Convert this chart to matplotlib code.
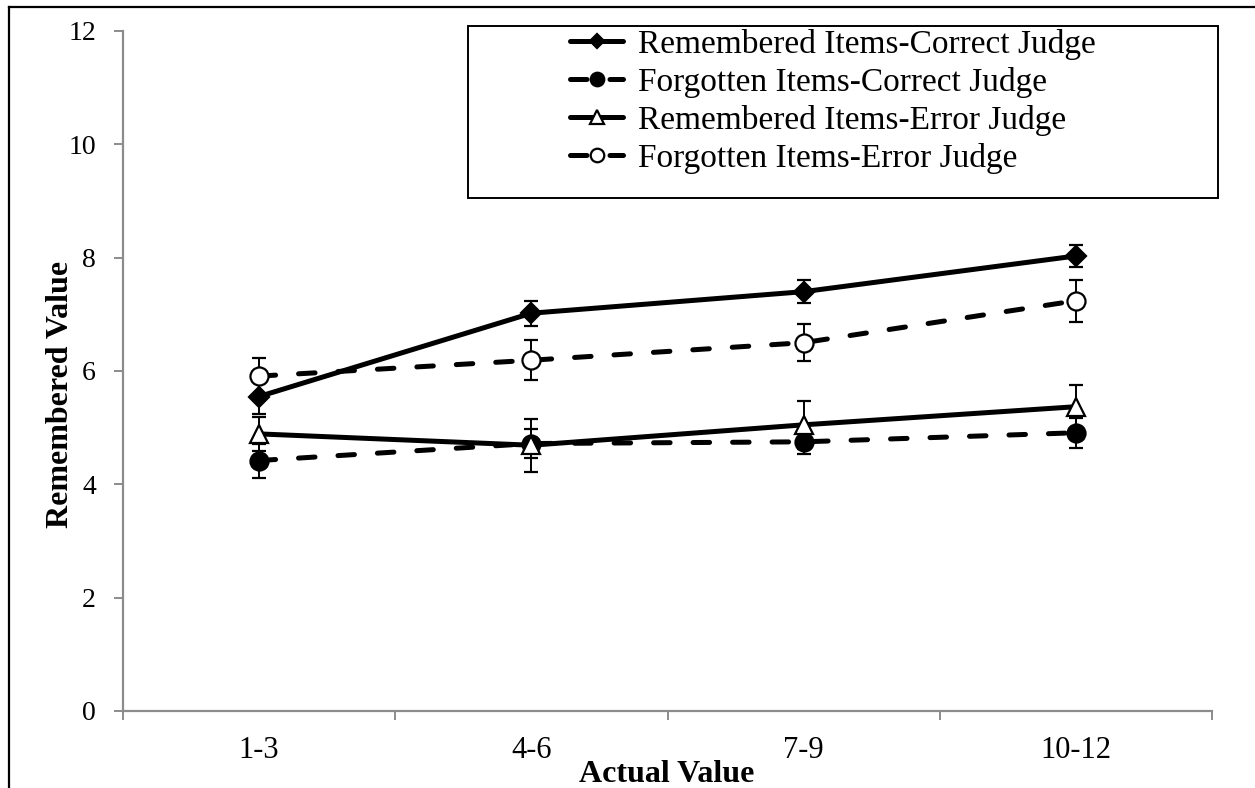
import matplotlib
matplotlib.use("Agg")
import matplotlib.pyplot as plt
from matplotlib.lines import Line2D
from matplotlib.patches import Rectangle

plt.rcParams['font.family'] = ['Liberation Serif', 'DejaVu Serif']

categories = ["1-3", "4-6", "7-9", "10-12"]
series_names = ["Remembered Items-Correct Judge", "Forgotten Items-Correct Judge",
                "Remembered Items-Error Judge", "Forgotten Items-Error Judge"]
rem_correct = [5.55, 7.02, 7.40, 8.03]
rem_correct_err = [0.30, 0.22, 0.20, 0.20]
forg_correct = [4.42, 4.72, 4.75, 4.91]
forg_correct_err = [0.30, 0.25, 0.21, 0.26]
rem_error = [4.89, 4.69, 5.05, 5.37]
rem_error_err = [0.30, 0.47, 0.42, 0.38]
forg_error = [5.91, 6.19, 6.50, 7.24]
forg_error_err = [0.32, 0.35, 0.33, 0.37]
yticks = [0, 2, 4, 6, 8, 10, 12]

fig = plt.figure(figsize=(12.55, 7.88), dpi=100)
ax = fig.add_axes([123/1255, 1-711/788, (1212-123)/1255, (711-31)/788])

x = list(range(len(categories)))
dash = (0, (3.3, 4.6))
specs = [
    (rem_correct, rem_correct_err, dict(marker='D', ms=10, mfc='black', ls='-')),
    (forg_correct, forg_correct_err, dict(marker='o', ms=13, mfc='black', ls=dash)),
    (rem_error, rem_error_err, dict(marker='^', ms=13, mfc='white', ls='-')),
    (forg_error, forg_error_err, dict(marker='o', ms=13, mfc='white', ls=dash)),
]
handles = []
for (vals, errs, st), name in zip(specs, series_names):
    ax.errorbar(x, vals, yerr=errs, fmt='none', ecolor='black', elinewidth=1.4,
                capsize=4.8, capthick=1.6, zorder=2)
    ln, = ax.plot(x, vals, color='black', lw=3.6, ls=st['ls'], marker=st['marker'],
                  ms=st['ms'], mfc=st['mfc'], mec='black', mew=1.6,
                  dash_capstyle='round', solid_capstyle='round', zorder=3, label=name)
    handles.append(ln)

ax.set_xlim(-0.5, 3.5)
ax.set_ylim(0, 12)
ax.set_yticks(yticks)
ax.set_yticklabels([str(v) for v in yticks], fontsize=20)
ax.set_xticks(x)
ax.set_xticklabels(categories, fontsize=22)
ax.set_xticks([-0.5, 0.5, 1.5, 2.5, 3.5], minor=True)
ax.tick_params(axis='x', which='major', length=0, pad=18)
ax.tick_params(axis='x', which='minor', length=6.5, width=1.4, color='#8c8c8c')
ax.tick_params(axis='y', which='major', length=6.5, width=1.4, color='#8c8c8c', pad=13)
for s in ['top', 'right']:
    ax.spines[s].set_visible(False)
for s in ['left', 'bottom']:
    ax.spines[s].set_color('#8c8c8c')
    ax.spines[s].set_linewidth(1.6)

ax.set_xlabel("Actual Value", fontsize=23, fontweight='bold')
ax.xaxis.set_label_coords(0.4995, -0.072)
ax.set_ylabel("Remembered Value", fontsize=23, fontweight='bold')
ax.yaxis.set_label_coords(-0.044, 0.466)

# legend box
fig.add_artist(Rectangle((468/1255, 1-198/788), (1218-468)/1255, (198-26)/788,
                         transform=fig.transFigure, fill=False, ec='black', lw=1.4))
leg = fig.legend(handles=handles, labels=series_names, loc='upper left',
                 bbox_to_anchor=(570/1255, 1-29/788), frameon=False, fontsize=24,
                 handlelength=1.6, handletextpad=0.45, labelspacing=0.21,
                 borderpad=0, borderaxespad=0, markerscale=0.75)

# outer border lines
fig.add_artist(Line2D([9/1255, 9/1255], [0, 1-7/788], color='black', lw=1.6,
                      transform=fig.transFigure))
fig.add_artist(Line2D([9/1255, 1], [1-7/788, 1-7/788], color='black', lw=1.6,
                      transform=fig.transFigure))

fig.savefig("out.png", dpi=100)
